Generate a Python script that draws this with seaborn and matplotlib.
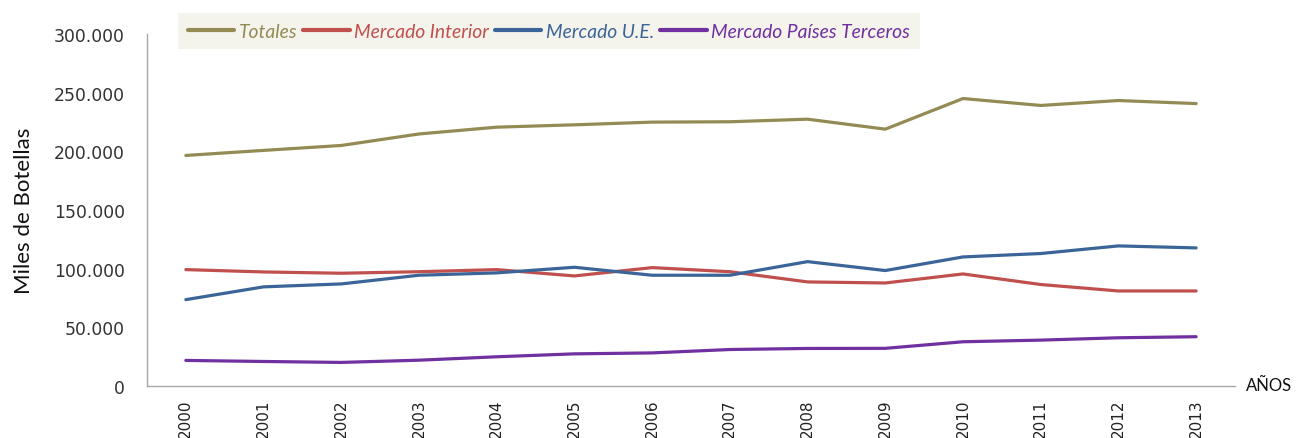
import matplotlib
matplotlib.use("Agg")
import matplotlib.pyplot as plt
import matplotlib.ticker as mticker
import seaborn as sns
import pandas as pd
from matplotlib.lines import Line2D

years = [2000, 2001, 2002, 2003, 2004, 2005, 2006, 2007, 2008, 2009, 2010, 2011, 2012, 2013]
totales = [196500, 200800, 205000, 214800, 220600, 222600, 224900, 225200, 227400, 218900, 245000, 239100, 243300, 240700]
interior = [99200, 97200, 96100, 97400, 99200, 93800, 100900, 97400, 88700, 87800, 95500, 86500, 81000, 81000]
ue = [73600, 84500, 87000, 94400, 96400, 101200, 94400, 94400, 106000, 98400, 110000, 112900, 119400, 117700]
terceros = [21800, 20900, 20100, 22000, 24900, 27400, 28200, 31100, 32000, 32100, 37700, 39100, 41100, 42000]
series_names = ["Totales", "Mercado Interior", "Mercado U.E.", "Mercado Países Terceros"]
colors = ["#948A54", "#C0504D", "#3B6598", "#7030A0"]

rows = []
for name, vals in zip(series_names, [totales, interior, ue, terceros]):
    for y, v in zip(years, vals):
        rows.append({"Año": y, "Valor": v, "Serie": name})
df = pd.DataFrame(rows)

sns.set_style("white")
fig = plt.figure(figsize=(12.96, 4.39), dpi=100)
ax = fig.add_axes([147/1296, 1-387/439, (1235-147)/1296, (387-35)/439])

sns.lineplot(data=df, x="Año", y="Valor", hue="Serie", palette=dict(zip(series_names, colors)),
             hue_order=series_names, linewidth=2.3, ax=ax, legend=False)

ax.set_xlim(1999.5, 2013.5)
ax.set_ylim(0, 300000)
ax.set_xticks(years)
ax.set_xticklabels([str(y) for y in years], rotation=90, fontsize=11, color="#222222")
ax.set_yticks(range(0, 300001, 50000))
ax.yaxis.set_major_formatter(mticker.FuncFormatter(lambda v, p: f"{int(v):,}".replace(",", ".")))
ax.tick_params(axis="y", labelsize=12.4, labelcolor="#333333", length=0, pad=16)
ax.tick_params(axis="x", length=0, pad=9)
ax.set_xlabel("")
ax.set_ylabel("Miles de Botellas", fontsize=16, family="Lato", color="#111111", labelpad=14)
for s in ["top", "right"]:
    ax.spines[s].set_visible(False)
for s in ["left", "bottom"]:
    ax.spines[s].set_color("#A6A6A6")
    ax.spines[s].set_linewidth(1.0)

fig.text(1246/1296, 1-386/439, "AÑOS", fontsize=12, family="Lato", color="#111111", va="center", ha="left")

handles = [Line2D([0], [0], color=c, lw=3) for c in colors]
leg = fig.legend(handles, series_names, loc="upper left", bbox_to_anchor=(178/1296, 1-14/439),
                 ncol=4, frameon=True, fancybox=False, handlelength=2.4, handletextpad=0.25,
                 columnspacing=0.3, borderpad=0.5, borderaxespad=0,
                 prop={"family": "Lato", "style": "italic", "size": 13.9})
leg.get_frame().set_facecolor("#F2F0E8")
leg.get_frame().set_edgecolor("none")
for t, c in zip(leg.get_texts(), colors):
    t.set_color(c)

fig.savefig("out.png", dpi=100)
